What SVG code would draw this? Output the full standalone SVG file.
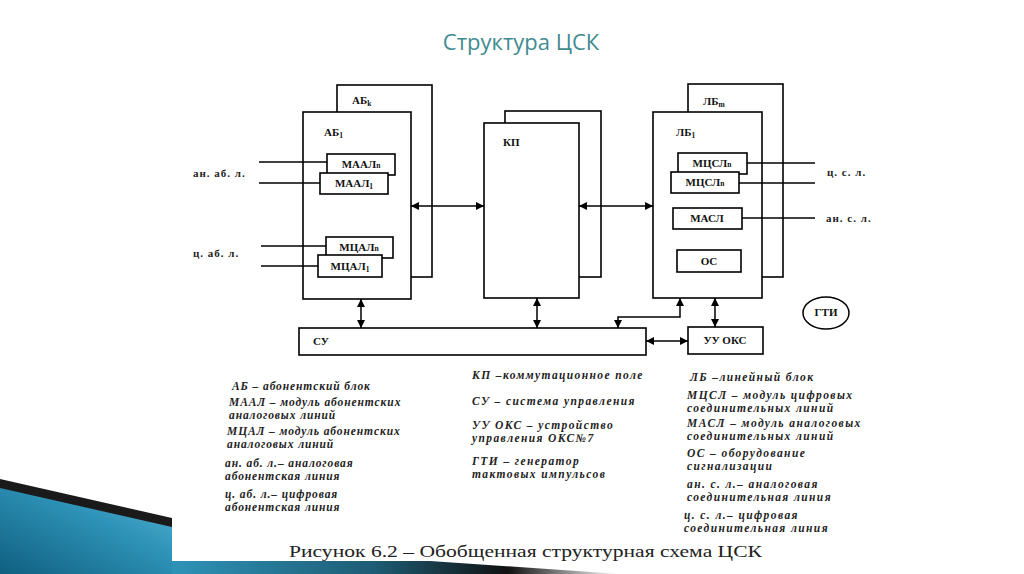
<svg xmlns="http://www.w3.org/2000/svg" width="1024" height="574" viewBox="0 0 1024 574">
<defs>
<marker id="ah" viewBox="0 0 10 10" refX="10" refY="5" markerWidth="10" markerHeight="8" markerUnits="userSpaceOnUse" orient="auto-start-reverse">
<path d="M0,0 L10,5 L0,10 z" fill="#000"/>
</marker>
<linearGradient id="blue" x1="0" y1="1" x2="1" y2="0">
<stop offset="0" stop-color="#0f5f80"/>
<stop offset="0.6" stop-color="#2e93b8"/>
<stop offset="1" stop-color="#5bb5d3"/>
</linearGradient>
<linearGradient id="band" x1="0" y1="0" x2="1" y2="0">
<stop offset="0" stop-color="#2e93b8"/>
<stop offset="0.45" stop-color="#1d5c74"/>
<stop offset="0.75" stop-color="#111"/>
<stop offset="1" stop-color="#111" stop-opacity="0"/>
</linearGradient>
<style>
.box{fill:#fff;stroke:#000;stroke-width:1.6}
.ln{fill:none;stroke:#000;stroke-width:1.5}
.cn{fill:none;stroke:#000;stroke-width:1.5;marker-start:url(#ah);marker-end:url(#ah)}
.lb{font-family:"Liberation Serif",serif;font-weight:bold;font-size:11px;fill:#111}
.sub{font-size:7.5px}
.lg{font-family:"Liberation Serif",serif;font-style:italic;font-weight:bold;font-size:11.5px;letter-spacing:0.9px;fill:#222}
.lg2{font-family:"Liberation Serif",serif;font-style:italic;font-weight:bold;font-size:11.5px;letter-spacing:1.4px;fill:#222}
.side{font-family:"Liberation Serif",serif;font-weight:bold;font-size:11px;letter-spacing:1px;fill:#222}
</style>
</defs>
<rect width="1024" height="574" fill="#fff"/>
<!-- slide decoration -->
<polygon points="0,486 172,526 172,574 0,574" fill="url(#blue)"/>
<polygon points="0,479 172,518 172,527 0,488" fill="#1a1a1a"/>
<polygon points="172,560 430,561 620,574 172,574" fill="url(#band)"/>
<rect x="172" y="60" width="680" height="501" fill="#fff"/>

<text x="521" y="50" text-anchor="middle" font-family="Open Sans, sans-serif" font-size="22" fill="#3f8b90">Структура ЦСК</text>

<!-- AB block -->
<g id="ab">
<rect class="box" x="337" y="85" width="95" height="192"/>
<text class="lb" x="352" y="104">АБ<tspan class="sub" dy="2">k</tspan></text>
<rect class="box" x="303" y="112" width="108" height="187"/>
<text class="lb" x="324" y="136">АБ<tspan class="sub" dy="2">1</tspan></text>
<rect class="box" x="327" y="154" width="68" height="21"/>
<text class="lb" x="361" y="168" text-anchor="middle">МААЛ<tspan class="sub">n</tspan></text>
<rect class="box" x="320" y="173" width="68" height="21"/>
<text class="lb" x="354" y="187" text-anchor="middle">МААЛ<tspan class="sub" dy="2">1</tspan></text>
<rect class="box" x="326" y="237" width="67" height="21"/>
<text class="lb" x="359" y="251" text-anchor="middle">МЦАЛ<tspan class="sub">n</tspan></text>
<rect class="box" x="318" y="255" width="64" height="22"/>
<text class="lb" x="350" y="270" text-anchor="middle">МЦАЛ<tspan class="sub" dy="2">1</tspan></text>
<line class="ln" x1="259" y1="162" x2="327" y2="162"/>
<line class="ln" x1="259" y1="183" x2="320" y2="183"/>
<line class="ln" x1="261" y1="246" x2="326" y2="246"/>
<line class="ln" x1="261" y1="266" x2="318" y2="266"/>
<text class="side" x="193" y="177">ан. аб. л.</text>
<text class="side" x="193" y="257">ц. аб. л.</text>
</g>

<!-- KP block -->
<g id="kp">
<rect class="box" x="505" y="111" width="96" height="166"/>
<rect class="box" x="484" y="123" width="95" height="175"/>
<text class="lb" x="503" y="146">КП</text>
</g>

<!-- LB block -->
<g id="lb">
<rect class="box" x="688" y="84" width="95" height="193"/>
<text class="lb" x="703" y="105">ЛБ<tspan class="sub" dy="2">m</tspan></text>
<rect class="box" x="653" y="112" width="109" height="186"/>
<text class="lb" x="676" y="136">ЛБ<tspan class="sub" dy="2">1</tspan></text>
<rect class="box" x="678" y="153" width="69" height="21"/>
<text class="lb" x="712" y="167" text-anchor="middle">МЦСЛ<tspan class="sub">n</tspan></text>
<rect class="box" x="671" y="172" width="68" height="21"/>
<text class="lb" x="705" y="186" text-anchor="middle">МЦСЛ<tspan class="sub">n</tspan></text>
<rect class="box" x="673" y="208" width="69" height="21"/>
<text class="lb" x="707" y="222" text-anchor="middle">МАСЛ</text>
<rect class="box" x="677" y="250" width="64" height="22"/>
<text class="lb" x="709" y="265" text-anchor="middle">ОС</text>
<line class="ln" x1="747" y1="163" x2="815" y2="163"/>
<line class="ln" x1="739" y1="183" x2="815" y2="183"/>
<line class="ln" x1="742" y1="218" x2="815" y2="218"/>
<text class="side" x="827" y="176">ц. с. л.</text>
<text class="side" x="826" y="222">ан. с. л.</text>
</g>

<g id="su">
<rect class="box" x="299" y="328" width="347" height="27"/>
<text class="lb" x="313" y="345">СУ</text>
</g>
<g id="uuoks">
<rect class="box" x="688" y="327" width="75" height="27"/>
<text class="lb" x="725" y="344" text-anchor="middle">УУ ОКС</text>
</g>
<g id="gti">
<ellipse cx="826" cy="313" rx="23" ry="16" fill="#fff" stroke="#000" stroke-width="1.5"/>
<text class="lb" x="826" y="316" text-anchor="middle" font-size="9.5">ГТИ</text>
</g>

<g id="connectors">
<line class="cn" x1="411" y1="206" x2="484" y2="206"/>
<line class="cn" x1="579" y1="206" x2="653" y2="206"/>
<line class="cn" x1="361" y1="299" x2="361" y2="328"/>
<line class="cn" x1="537" y1="298" x2="537" y2="328"/>
<path class="cn" d="M680,298 V317 H618 V328"/>
<line class="cn" x1="715" y1="298" x2="715" y2="327"/>
<line class="cn" x1="646" y1="341" x2="688" y2="341"/>
</g>

<g id="legend">
<text class="lg" x="232" y="390">АБ – абонентский блок</text>
<text class="lg" x="229" y="406">МААЛ – модуль абонентских</text>
<text class="lg" x="229" y="419">аналоговых линий</text>
<text class="lg" x="227" y="435">МЦАЛ – модуль абонентских</text>
<text class="lg" x="227" y="448">аналоговых линий</text>
<text class="lg" x="225" y="467">ан. аб. л.– аналоговая</text>
<text class="lg" x="225" y="480">абонентская линия</text>
<text class="lg" x="225" y="498">ц. аб. л.– цифровая</text>
<text class="lg" x="225" y="511">абонентская линия</text>

<text class="lg2" x="472" y="379">КП –коммутационное поле</text>
<text class="lg2" x="472" y="405">СУ – система управления</text>
<text class="lg2" x="472" y="429">УУ ОКС – устройство</text>
<text class="lg2" x="472" y="442">управления ОКС№7</text>
<text class="lg2" x="472" y="465">ГТИ – генератор</text>
<text class="lg2" x="472" y="478">тактовых импульсов</text>

<text class="lg2" x="690" y="381">ЛБ –линейный блок</text>
<text class="lg2" x="687" y="399">МЦСЛ – модуль цифровых</text>
<text class="lg2" x="687" y="412">соединительных линий</text>
<text class="lg2" x="687" y="427">МАСЛ – модуль аналоговых</text>
<text class="lg2" x="687" y="440">соединительных линий</text>
<text class="lg2" x="687" y="457">ОС – оборудование</text>
<text class="lg2" x="687" y="470">сигнализации</text>
<text class="lg2" x="687" y="488">ан. с. л.– аналоговая</text>
<text class="lg2" x="687" y="501">соединительная линия</text>
<text class="lg2" x="684" y="519">ц. с. л.– цифровая</text>
<text class="lg2" x="684" y="532">соединительная линия</text>
</g>

<text x="289" y="557" font-family="Liberation Serif, serif" font-size="17" fill="#222" textLength="473" lengthAdjust="spacingAndGlyphs">Рисунок 6.2 – Обобщенная структурная схема ЦСК</text>
</svg>
